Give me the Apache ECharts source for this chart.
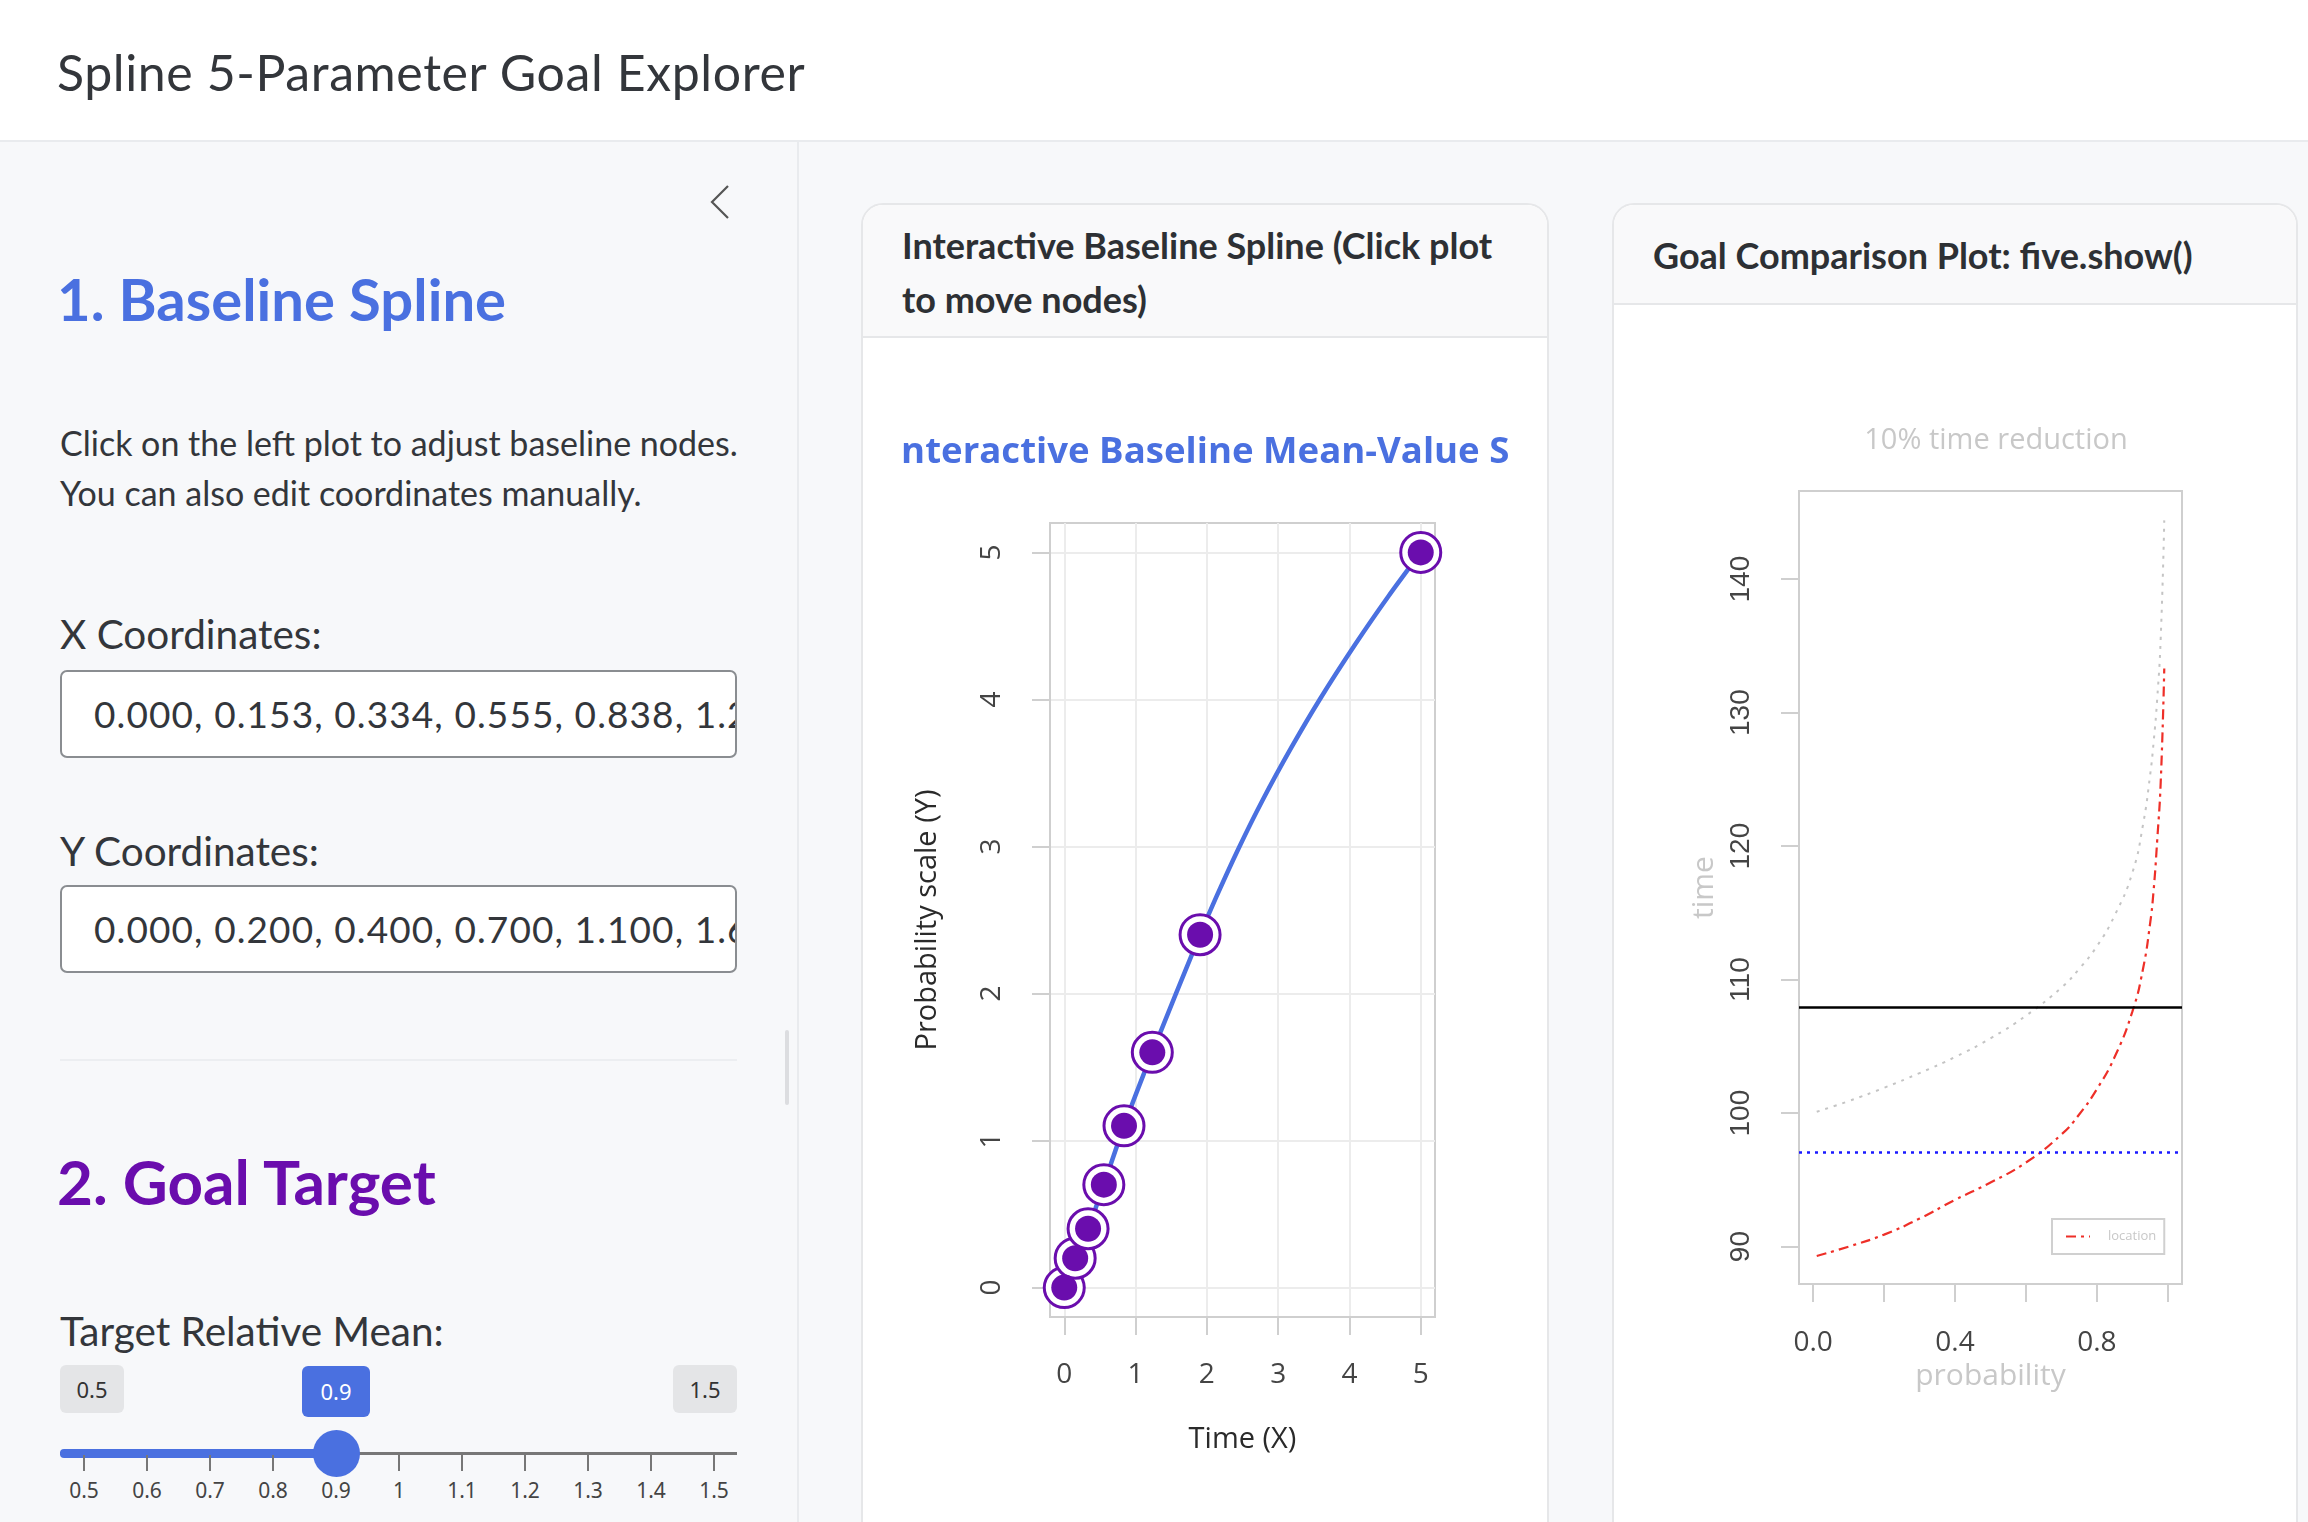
<!DOCTYPE html>
<html>
<head>
<meta charset="utf-8">
<title>Spline 5-Parameter Goal Explorer</title>
<script src="https://cdn.jsdelivr.net/npm/echarts@6/dist/echarts.min.js"></script>
<style>
html, body { margin: 0; padding: 0; width: 2308px; height: 1522px; overflow: hidden; background: #f7f8fa; font-family: Lato, "Noto Sans", sans-serif; color: #33363b; }
.abs { position: absolute; }
#header { left: 0; top: 0; width: 2308px; height: 140px; background: #fff; border-bottom: 2px solid #e9ebee; }
#appTitle { left: 57px; top: 40px; font-size: 50px; line-height: 64px; letter-spacing: 0.6px; white-space: nowrap; }
#sidebar { left: 0; top: 142px; width: 797px; height: 1380px; background: #f7f8fa; border-right: 2px solid #e9ebee; }
.h2 { font-weight: 700; line-height: 76px; white-space: nowrap; }
.txt { font-size: 34px; line-height: 50px; white-space: nowrap; }
.lbl { font-size: 40.5px; line-height: 54px; white-space: nowrap; }
.inp { left: 60px; width: 677px; height: 88px; background: #fff; border: 2px solid #8a8d91; border-radius: 7px; overflow: hidden; box-sizing: border-box; }
.inp span { position: absolute; left: 32px; top: 17px; font-size: 37px; line-height: 50px; letter-spacing: 1.1px; white-space: nowrap; }
.badge { height: 48px; line-height: 48px; font-size: 22px; border-radius: 6px; text-align: center; font-family: "Noto Sans", sans-serif; }
.tick { width: 2px; height: 16px; background: #777; top: 1455px; }
.tlab { width: 50px; margin-left: -25px; text-align: center; font-size: 21px; top: 1476px; color: #444; font-family: "Noto Sans", sans-serif; }
.card { background: #fff; border: 2px solid #e6e7e9; border-radius: 22px; overflow: hidden; box-sizing: border-box; }
.cardHead { left: 0; top: 0; right: 0; background: #f9f9fa; border-bottom: 2px solid #e6e7e9; }
.cardTitle { font-weight: 700; font-size: 36px; line-height: 54px; white-space: nowrap; color: #2d3034; }
</style>
</head>
<body>
<div id="header" class="abs"><div id="appTitle" class="abs">Spline 5-Parameter Goal Explorer</div></div>

<div id="sidebar" class="abs"></div>
<svg class="abs" style="left:700px;top:180px" width="40" height="44"><polyline points="28,6 12,22 28,38" fill="none" stroke="#555" stroke-width="2.2"/></svg>
<div class="abs h2" style="left:57px;top:261px;font-size:58px;color:#4a70e0">1. Baseline Spline</div>
<div class="abs txt" style="left:60px;top:418px">Click on the left plot to adjust baseline nodes.</div>
<div class="abs txt" style="left:60px;top:468px">You can also edit coordinates manually.</div>
<div class="abs lbl" style="left:60px;top:607px">X Coordinates:</div>
<div class="abs inp" style="top:670px"><span id="xInput"></span></div>
<div class="abs lbl" style="left:60px;top:824px">Y Coordinates:</div>
<div class="abs inp" style="top:885px"><span id="yInput"></span></div>
<div class="abs" style="left:60px;top:1059px;width:677px;height:2px;background:#eceef1"></div>
<div class="abs" style="left:785px;top:1030px;width:4px;height:75px;background:#dcdde0;border-radius:2px"></div>
<div class="abs h2" style="left:57px;top:1143px;font-size:62px;color:#6a0dad">2. Goal Target</div>
<div class="abs lbl" style="left:60px;top:1304px">Target Relative Mean:</div>
<div id="slider"></div>

<div class="abs card" style="left:861px;top:203px;width:688px;height:1400px">
  <div class="abs cardHead" style="height:131px">
    <div class="abs cardTitle" style="left:39px;top:13px">Interactive Baseline Spline (Click plot<br>to move nodes)</div>
  </div>
</div>
<div class="abs card" style="left:1612px;top:203px;width:686px;height:1400px">
  <div class="abs cardHead" style="height:98px">
    <div class="abs cardTitle" style="left:39px;top:23px">Goal Comparison Plot: five.show()</div>
  </div>
</div>

<div id="chartSpline" class="abs" style="left:902px;top:338px;width:607px;height:1184px"></div>
<div id="chartGoal" class="abs" style="left:1640px;top:305px;width:640px;height:1217px"></div>

<script>
// baseline spline nodes
var xNodes = [0.000, 0.153, 0.334, 0.555, 0.838, 1.235, 1.905, 5.000];
var yNodes = [0.000, 0.200, 0.400, 0.700, 1.100, 1.600, 2.400, 5.000];
// fitted spline
var curveX = [0.000, 0.153, 0.334, 0.555, 0.838, 1.235, 1.905, 2.128, 2.443, 2.785, 3.184, 3.583, 4.077, 4.547, 5.000];
var curveY = [0.000, 0.200, 0.400, 0.700, 1.100, 1.600, 2.400, 2.652, 2.985, 3.318, 3.672, 4.000, 4.372, 4.702, 5.000];
var splineTicks = [0, 1, 2, 3, 4, 5];

// goal comparison curves
var probs    = [0.01, 0.1, 0.2, 0.3, 0.4, 0.5, 0.6, 0.7, 0.75, 0.8, 0.85, 0.9, 0.93, 0.95, 0.96, 0.97, 0.98, 0.99];
var baseline = [100.1, 100.9, 101.9, 103.0, 104.2, 105.6, 107.3, 109.4, 110.8, 112.5, 114.8, 118.0, 121.6, 125.3, 127.8, 131.0, 135.6, 144.4];
var location_ = [89.3, 90.0, 90.9, 92.1, 93.5, 94.8, 96.3, 98.4, 99.9, 101.8, 104.2, 107.6, 110.8, 114.2, 116.7, 120.4, 124.8, 133.3];
var baselineMean = 107.9;
var goalMean = 97.1;
var probTicks = [0, 0.2, 0.4, 0.6, 0.8, 1.0];
var probLabels = [0, 0.4, 0.8];
var timeTicks = [90, 100, 110, 120, 130, 140];

// slider
var sliderMin = 0.5, sliderMax = 1.5, sliderValue = 0.9;
var sliderTicks = [0.5, 0.6, 0.7, 0.8, 0.9, 1, 1.1, 1.2, 1.3, 1.4, 1.5];

document.getElementById('xInput').textContent = xNodes.map(function(v){ return v.toFixed(3); }).join(', ');
document.getElementById('yInput').textContent = yNodes.map(function(v){ return v.toFixed(3); }).join(', ');

// slider widget
(function(){
    var s = document.getElementById('slider');
    var x0 = 84, x1 = 714;
    function px(v){ return x0 + (v - sliderMin) / (sliderMax - sliderMin) * (x1 - x0); }
    var html = '';
    html += '<div class="abs badge" style="left:60px;top:1365px;width:64px;background:#e4e5e7;color:#333">' + sliderMin + '</div>';
    html += '<div class="abs badge" style="left:673px;top:1365px;width:64px;background:#e4e5e7;color:#333">' + sliderMax + '</div>';
    html += '<div class="abs badge" style="left:' + (px(sliderValue) - 34) + 'px;top:1366px;width:68px;height:51px;line-height:51px;background:#4a70e0;color:#fff">' + sliderValue + '</div>';
    html += '<div class="abs" style="left:60px;top:1452px;width:677px;height:3px;background:#777"></div>';
    html += '<div class="abs" style="left:60px;top:1449px;width:' + (px(sliderValue) - 60) + 'px;height:9px;border-radius:4px;background:#4a70e0"></div>';
    sliderTicks.forEach(function(t){
        html += '<div class="abs tick" style="left:' + (px(t) - 1) + 'px"></div>';
        html += '<div class="abs tlab" style="left:' + px(t) + 'px">' + t + '</div>';
    });
    html += '<div class="abs" style="left:' + (px(sliderValue) - 23) + 'px;top:1430px;width:47px;height:47px;border-radius:50%;background:#4a70e0"></div>';
    s.innerHTML = html;
})();

var splineChart = echarts.init(document.getElementById('chartSpline'));
var nodeData = xNodes.map(function(x, i){ return [x, yNodes[i]]; });
var curveData = curveX.map(function(x, i){ return [x, curveY[i]]; });
var axisGray = '#cfcfcf';
splineChart.setOption({
    animation: false,
    graphic: [{
        type: 'text', x: -13, y: 96, silent: true,
        style: { text: 'Interactive Baseline Mean-Value Spline', fill: '#4a70e0',
                 font: 'bold 36.6px "Open Sans"', verticalAlign: 'top' }
    }],
    grid: { left: 148, top: 185, width: 385, height: 794, show: true, borderColor: axisGray, borderWidth: 2 },
    xAxis: {
        type: 'value', min: -0.2, max: 5.2,
        name: 'Time (X)', nameLocation: 'middle', nameGap: 108,
        nameTextStyle: { fontFamily: 'Open Sans', fontSize: 29, color: '#2a2a2a' },
        axisLine: { show: true, onZero: false, lineStyle: { color: axisGray, width: 2 } },
        axisTick: { show: true, length: 18, lineStyle: { color: axisGray, width: 2 }, customValues: splineTicks },
        axisLabel: { customValues: splineTicks, margin: 44, fontFamily: 'Open Sans', fontSize: 28, color: '#444' },
        splitLine: { show: true, lineStyle: { color: '#ececec', width: 2 } }
    },
    yAxis: {
        type: 'value', min: -0.2, max: 5.2,
        name: 'Probability scale (Y)', nameLocation: 'middle', nameGap: 108,
        nameTextStyle: { fontFamily: 'Open Sans', fontSize: 29, color: '#2a2a2a' },
        axisLine: { show: true, onZero: false, lineStyle: { color: axisGray, width: 2 } },
        axisTick: { show: true, length: 18, lineStyle: { color: axisGray, width: 2 }, customValues: splineTicks },
        axisLabel: { customValues: splineTicks, margin: 44, rotate: 90, fontFamily: 'Open Sans', fontSize: 28, color: '#444' },
        splitLine: { show: true, lineStyle: { color: '#ececec', width: 2 } }
    },
    series: [
        { type: 'line', data: curveData, smooth: 0.25, showSymbol: false, symbol: 'none',
          lineStyle: { color: '#4a70e0', width: 4.5 }, z: 2 },
        { type: 'scatter', data: nodeData, symbolSize: 40,
          itemStyle: { color: '#fff', borderColor: '#6a0dad', borderWidth: 3, opacity: 1 }, z: 3 },
        { type: 'scatter', data: nodeData, symbolSize: 26,
          itemStyle: { color: '#6a0dad', opacity: 1 }, z: 4 }
    ]
});

var goalChart = echarts.init(document.getElementById('chartGoal'));
var lightText = '#c8c8c8';
var redLine = '#ee2f28';
goalChart.setOption({
    animation: false,
    title: {
        text: '10% time reduction', left: 351, top: 116, textAlign: 'center',
        textStyle: { fontFamily: 'Open Sans', fontWeight: 'normal', fontSize: 29, color: lightText }
    },
    legend: {
        data: ['location'], left: 412, top: 914,
        orient: 'vertical',
        padding: [11, 8, 11, 13],
        borderColor: '#d0d0d0', borderWidth: 2, borderRadius: 0,
        itemWidth: 24, itemHeight: 10,
        itemStyle: { opacity: 0 },
        textStyle: { fontFamily: 'Open Sans', fontSize: 13, color: lightText, padding: [0, 0, 0, 13] }
    },
    grid: { left: 159, top: 186, width: 383, height: 793, show: true, borderColor: axisGray, borderWidth: 2 },
    xAxis: {
        type: 'value', min: -0.04, max: 1.04,
        name: 'probability', nameLocation: 'middle', nameGap: 72,
        nameTextStyle: { fontFamily: 'Open Sans', fontSize: 30, color: lightText },
        axisLine: { show: true, onZero: false, lineStyle: { color: axisGray, width: 2 } },
        axisTick: { show: true, length: 18, lineStyle: { color: axisGray, width: 2 }, customValues: probTicks },
        axisLabel: { customValues: probLabels, margin: 45, fontFamily: 'Open Sans', fontSize: 28, color: '#444',
                     formatter: function(v){ return v.toFixed(1); } },
        splitLine: { show: false }
    },
    yAxis: {
        type: 'value', min: 87.2, max: 146.6,
        name: 'time', nameLocation: 'middle', nameGap: 72,
        nameTextStyle: { fontFamily: 'Open Sans', fontSize: 30, color: lightText },
        axisLine: { show: true, onZero: false, lineStyle: { color: axisGray, width: 2 } },
        axisTick: { show: true, length: 18, lineStyle: { color: axisGray, width: 2 }, customValues: timeTicks },
        axisLabel: { customValues: timeTicks, margin: 44, rotate: 90, fontFamily: 'Liberation Sans', fontSize: 28, color: '#444' },
        splitLine: { show: false }
    },
    series: [
        { name: 'baseline', type: 'line', data: probs.map(function(p, i){ return [p, baseline[i]]; }),
          smooth: 0.5, symbol: 'none', itemStyle: { color: '#c4c4c4' },
          lineStyle: { color: '#c4c4c4', width: 2, type: [3, 6] },
          markLine: { silent: true, symbol: 'none', label: { show: false },
                      lineStyle: { color: '#000', width: 2.5, type: 'solid' },
                      data: [{ yAxis: baselineMean }] } },
        { name: 'location', type: 'line', data: probs.map(function(p, i){ return [p, location_[i]]; }),
          smooth: 0.5, symbol: 'none', itemStyle: { color: redLine },
          lineStyle: { color: redLine, width: 2.2, type: [10, 5, 3, 5] },
          markLine: { silent: true, symbol: 'none', label: { show: false },
                      lineStyle: { color: '#1a1aff', width: 2.5, type: [3, 5] },
                      data: [{ yAxis: goalMean }] } }
    ]
});
</script>
</body>
</html>
